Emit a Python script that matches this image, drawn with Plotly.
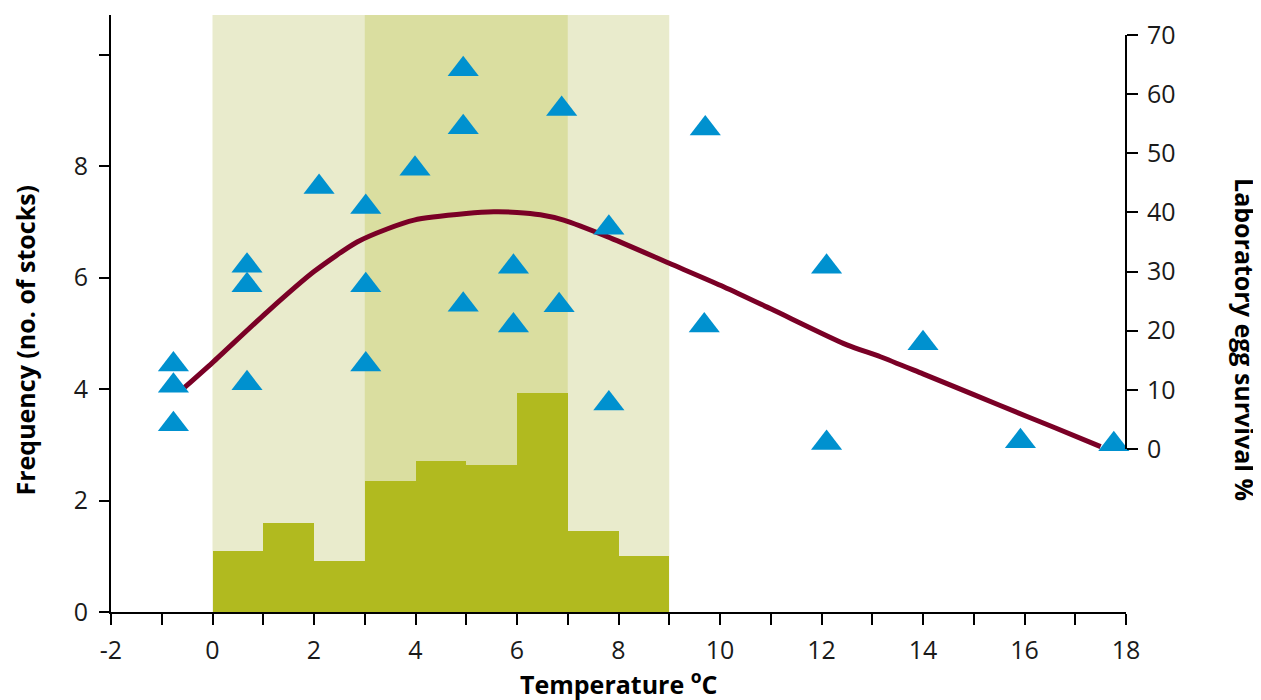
import plotly.graph_objects as go

# Histogram of stock frequency per 1 degree bin (left axis)
bin_centers = [0.5, 1.5, 2.5, 3.5, 4.5, 5.5, 6.5, 7.5, 8.5]
frequency = [1.10, 1.60, 0.92, 2.35, 2.71, 2.64, 3.93, 1.45, 1.00]

# Laboratory egg survival observations (right axis)
obs_temp = [-0.77, -0.77, -0.77, 0.68, 0.68, 0.68, 2.10, 3.02, 3.02, 3.02, 3.99,
            4.94, 4.94, 4.94, 5.93, 5.93, 6.88, 6.83, 7.81, 7.81, 9.71, 9.69,
            12.10, 12.10, 14.00, 15.92, 17.76]
obs_survival = [14.3, 10.7, 4.2, 31.0, 27.7, 11.1, 44.3, 40.9, 27.7, 14.3, 47.4,
                64.2, 54.4, 24.4, 30.8, 20.9, 57.5, 24.3, 37.4, 7.7, 54.2, 20.9,
                30.8, 1.0, 17.9, 1.3, 0.8]

# Fitted survival curve (right axis)
curve_temp = [-0.55, 0.0, 1.08, 2.0, 2.85, 3.44, 3.97, 5.0, 5.54, 6.0, 6.46, 6.92,
              7.78, 9.0, 10.08, 11.0, 12.5, 13.16, 14.0, 15.0, 16.05, 16.6, 17.5]
curve_survival = [10.4, 14.6, 23.2, 30.0, 35.0, 37.2, 38.7, 39.8, 40.1, 40.0, 39.6, 38.7,
                  35.9, 31.4, 27.4, 23.7, 17.6, 15.6, 12.7, 9.2, 5.5, 3.6, 0.4]

# Shaded temperature zones
outer_zone = [0, 9]
inner_zone = [3, 7]

x_ticks = [-2, 0, 2, 4, 6, 8, 10, 12, 14, 16, 18]
x_ticktext = ["-2", "0", "2", "4", "6", "8", "10", "12", "14", "16", "18"]
y_ticks = [0, 2, 4, 6, 8]
y_minor_ticks = [10]
y2_ticks = [0, 10, 20, 30, 40, 50, 60, 70]

FONT = "Open Sans"
TXT = "#1a1a1a"

fig = go.Figure()

fig.add_trace(go.Bar(
    x=bin_centers, y=frequency, width=1,
    marker=dict(color="#B1BA1F", line=dict(width=0)),
    yaxis="y", showlegend=False,
))
fig.add_trace(go.Scatter(
    x=curve_temp, y=curve_survival, mode="lines",
    line=dict(color="#7A0026", width=5, shape="spline", smoothing=0.7),
    yaxis="y2", showlegend=False,
))
fig.add_trace(go.Scatter(
    x=obs_temp, y=obs_survival, mode="markers",
    marker=dict(symbol="triangle-up", size=27, color="#0091CF", line=dict(width=0)),
    yaxis="y2", showlegend=False, cliponaxis=False,
))

shapes = [
    dict(type="rect", xref="x", yref="paper", x0=outer_zone[0], x1=outer_zone[1],
         y0=0, y1=1, fillcolor="#E9EBCC", line=dict(width=0), layer="below"),
    dict(type="rect", xref="x", yref="paper", x0=inner_zone[0], x1=inner_zone[1],
         y0=0, y1=1, fillcolor="#DADEA0", line=dict(width=0), layer="below"),
    dict(type="line", xref="paper", yref="y2", x0=1, x1=1, y0=y2_ticks[0], y1=y2_ticks[-1],
         line=dict(color="black", width=2)),
]

fig.update_layout(
    width=1253, height=692,
    margin=dict(l=103, r=135, t=7, b=88),
    paper_bgcolor="white", plot_bgcolor="rgba(0,0,0,0)",
    bargap=0,
    font=dict(family=FONT, size=25, color=TXT),
    shapes=shapes,
    xaxis=dict(
        range=[-2, 18], tickvals=x_ticks, ticktext=x_ticktext,
        ticks="outside", ticklen=11, tickwidth=2, tickcolor="black",
        minor=dict(dtick=1, tick0=-1, ticks="outside", ticklen=11, tickwidth=2,
                   tickcolor="black", showgrid=False),
        showline=True, linewidth=2, linecolor="black",
        showgrid=False, zeroline=False, ticklabelstandoff=4,
    ),
    yaxis=dict(
        range=[0, 10.71], tickvals=y_ticks,
        ticks="outside", ticklen=10, tickwidth=2, tickcolor="black",
        minor=dict(tickmode="array", tickvals=y_minor_ticks, ticks="outside", ticklen=10,
                   tickwidth=2, tickcolor="black", showgrid=False),
        showline=True, linewidth=2, linecolor="black",
        showgrid=False, zeroline=False, ticklabelstandoff=6,
    ),
    yaxis2=dict(
        overlaying="y", side="right", anchor="x",
        range=[-27.56, 73.38], tickvals=y2_ticks,
        ticks="outside", ticklen=11, tickwidth=2, tickcolor="black",
        showline=False, showgrid=False, zeroline=False, ticklabelstandoff=4,
    ),
    annotations=[
        dict(text="<b>Temperature <sup>o</sup>C</b>", xref="paper", yref="paper",
             x=0.5, y=-0.118, xanchor="center", yanchor="middle", showarrow=False,
             font=dict(family=FONT, size=25, color="black")),
        dict(text="<b>Frequency (no. of stocks)</b>", xref="paper", yref="paper",
             x=-0.085, y=0.456, xanchor="center", yanchor="middle", showarrow=False,
             textangle=-90, font=dict(family=FONT, size=25, color="black")),
        dict(text="<b>Laboratory egg survival %</b>", xref="paper", yref="paper",
             x=1.117, y=0.456, xanchor="center", yanchor="middle", showarrow=False,
             textangle=90, font=dict(family=FONT, size=25, color="black")),
    ],
)

fig.write_html("out.html")
